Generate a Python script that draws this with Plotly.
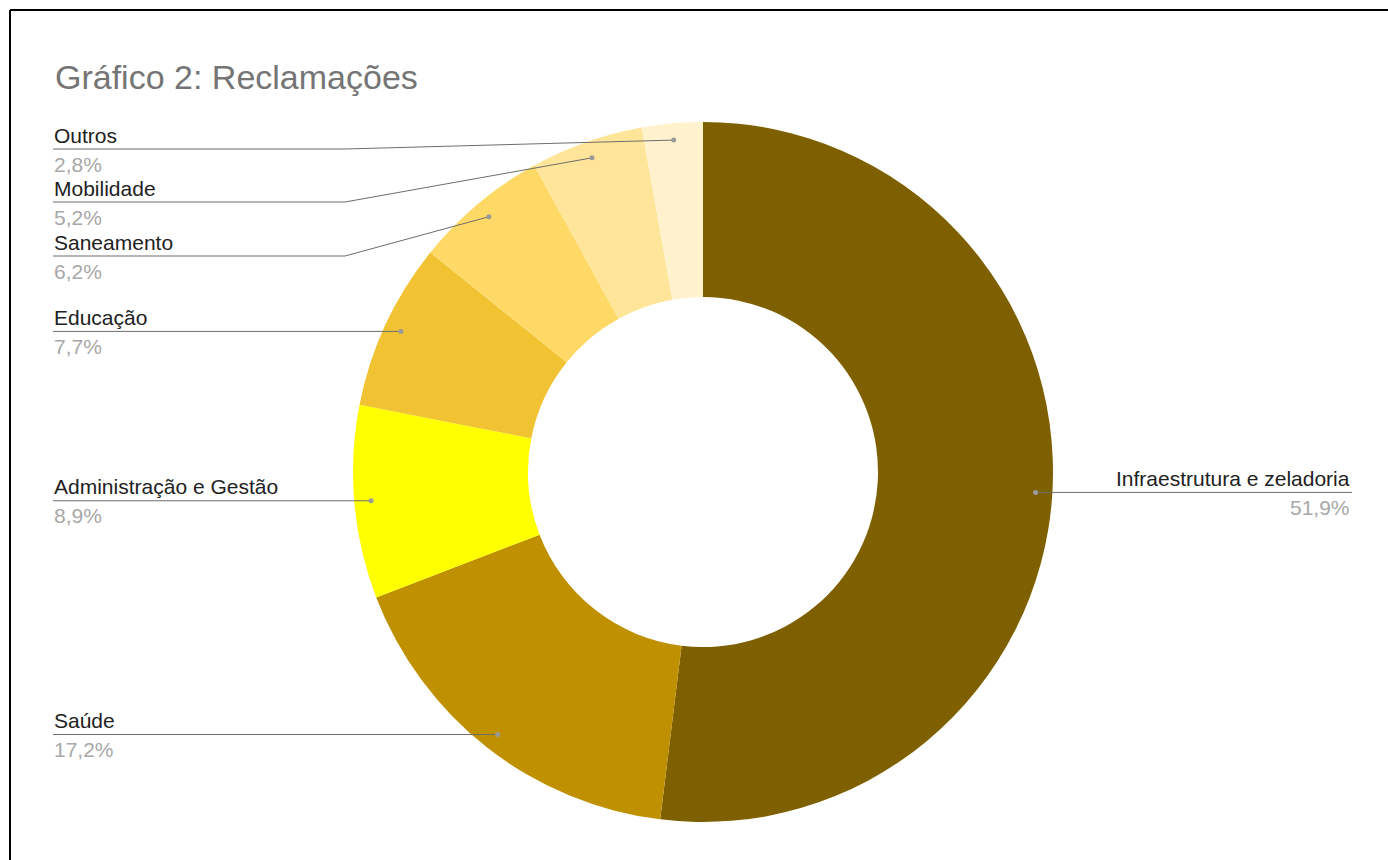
import math
import plotly.graph_objects as go

# Data
categories = ["Infraestrutura e zeladoria", "Saúde", "Administração e Gestão",
              "Educação", "Saneamento", "Mobilidade", "Outros"]
values = [51.9, 17.2, 8.9, 7.7, 6.2, 5.2, 2.8]
value_labels = ["51,9%", "17,2%", "8,9%", "7,7%", "6,2%", "5,2%", "2,8%"]
colors = ["#7F6000", "#BF9000", "#FFFF00", "#F1C232", "#FFD966", "#FFE599", "#FFF2CC"]

W, H = 1388, 860
CX, CY, R = 703, 472, 350           # donut centre / outer radius in pixels
LABEL_X_LEFT, LABEL_X_RIGHT = 53, 1352
ELBOW_X = 345

# stacked labels near the top need a bent leader at ELBOW_X; their line y (pixels)
bent_label_y = {"Saneamento": 256, "Mobilidade": 202, "Outros": 149}

LABEL_FONT = 21


def px(x):
    return x / W


def py(y):
    return 1 - y / H


fig = go.Figure(go.Pie(
    labels=categories, values=values, hole=0.5, sort=False,
    direction="clockwise", rotation=0,
    marker=dict(colors=colors, line=dict(width=0)),
    textinfo="none", hoverinfo="label+percent", showlegend=False,
    domain=dict(x=[px(CX - R), px(CX + R)], y=[py(CY + R), py(CY - R)]),
))

shapes = []
annotations = []
total = sum(values)
cum = 0.0
line_style = dict(color="#6d6d6d", width=1)
for cat, v, vl in zip(categories, values, value_labels):
    mid = (cum + v / 2) / total * 2 * math.pi
    cum += v
    rd = 0.952 * R
    dx = CX + rd * math.sin(mid)
    dy = CY - rd * math.cos(mid)
    if dx > CX:
        # right-hand label
        shapes.append(dict(type="line", xref="paper", yref="paper",
                           x0=px(dx), y0=py(dy), x1=px(LABEL_X_RIGHT), y1=py(dy), line=line_style))
        xa, anchor, ly = LABEL_X_RIGHT, "right", dy
    else:
        if cat in bent_label_y:
            ly = bent_label_y[cat]
            shapes.append(dict(type="line", xref="paper", yref="paper",
                               x0=px(LABEL_X_LEFT), y0=py(ly), x1=px(ELBOW_X), y1=py(ly), line=line_style))
            shapes.append(dict(type="line", xref="paper", yref="paper",
                               x0=px(ELBOW_X), y0=py(ly), x1=px(dx), y1=py(dy), line=line_style))
        else:
            ly = dy
            shapes.append(dict(type="line", xref="paper", yref="paper",
                               x0=px(LABEL_X_LEFT), y0=py(ly), x1=px(dx), y1=py(dy), line=line_style))
        xa, anchor = LABEL_X_LEFT - 1, "left"
    annotations.append(dict(x=px(xa), y=py(ly - 14), xref="paper", yref="paper",
                            text=cat, showarrow=False, xanchor=anchor, yanchor="middle",
                            font=dict(size=LABEL_FONT, color="#222222")))
    annotations.append(dict(x=px(xa), y=py(ly + 15), xref="paper", yref="paper",
                            text=vl, showarrow=False, xanchor=anchor, yanchor="middle",
                            font=dict(size=LABEL_FONT, color="#a8a8a8")))
    shapes.append(dict(type="circle", xref="paper", yref="paper",
                       x0=px(dx - 2.5), y0=py(dy + 2.5), x1=px(dx + 2.5), y1=py(dy - 2.5),
                       fillcolor="#9a9a9a", line=dict(width=0)))

# frame lines along top and left edges
shapes.append(dict(type="line", xref="paper", yref="paper", x0=px(10), y0=py(10), x1=1.01, y1=py(10),
                   line=dict(color="#000000", width=2)))
shapes.append(dict(type="line", xref="paper", yref="paper", x0=px(10), y0=py(10), x1=px(10), y1=-0.01,
                   line=dict(color="#000000", width=2)))

annotations.append(dict(x=px(53), y=py(77), xref="paper", yref="paper",
                        text="Gráfico 2: Reclamações", showarrow=False,
                        xanchor="left", yanchor="middle",
                        font=dict(size=34, color="#757575")))

fig.update_layout(
    width=W, height=H, margin=dict(l=0, r=0, t=0, b=0),
    paper_bgcolor="white", plot_bgcolor="white",
    font=dict(family="Liberation Sans, Arial, sans-serif"),
    shapes=shapes, annotations=annotations,
)

fig.write_html("out.html")
